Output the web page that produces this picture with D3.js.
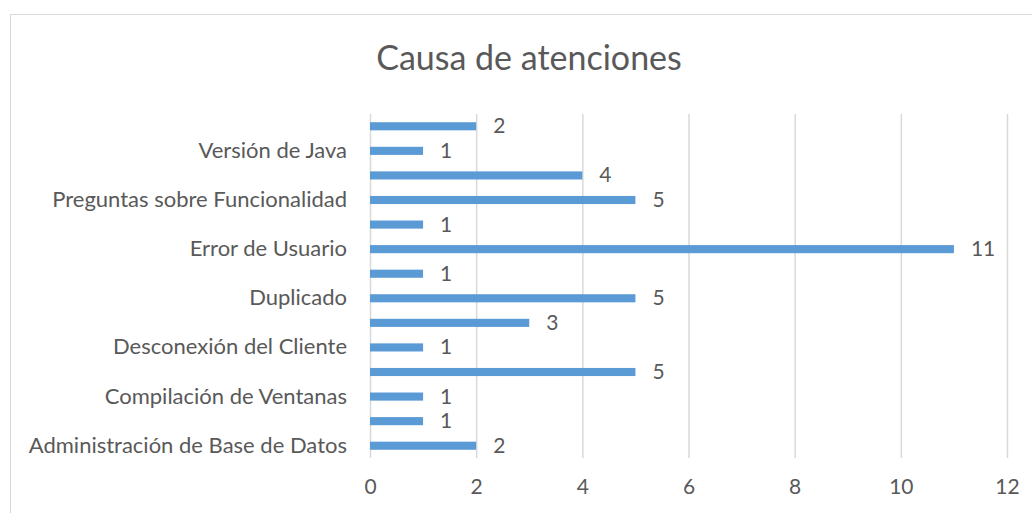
<!DOCTYPE html>
<html>
<head>
<meta charset="utf-8">
<script src="https://cdn.jsdelivr.net/npm/d3@7"></script>
<style>
  body { margin: 0; background: #fff; }
  text { font-family: Lato, sans-serif; fill: #595959; }
</style>
</head>
<body>
<div id="chart"></div>
<script>
// categories bottom to top; Excel only printed every other label
const categories = [
  "Administración de Base de Datos", "",
  "Compilación de Ventanas", "",
  "Desconexión del Cliente", "",
  "Duplicado", "",
  "Error de Usuario", "",
  "Preguntas sobre Funcionalidad", "",
  "Versión de Java", ""
];
const values = [2, 1, 1, 5, 1, 3, 5, 1, 11, 1, 5, 4, 1, 2];
const xTicks = [0, 2, 4, 6, 8, 10, 12];
const title = "Causa de atenciones";

let width = 1032,
    height = 513;

let svg = d3.select("#chart").append("svg")
  .attr("width", width)
  .attr("height", height);

// chart frame (runs off the right and bottom edge)
svg.append("rect")
  .attr("x", 10.5)
  .attr("y", 14.5)
  .attr("width", 1100)
  .attr("height", 600)
  .attr("fill", "none")
  .attr("stroke", "#d9d9d9");

svg.append("text")
  .attr("x", 529)
  .attr("y", 70)
  .attr("text-anchor", "middle")
  .attr("font-size", 34)
  .text(title);

let x = d3.scaleLinear()
  .domain([0, 12])
  .range([370, 1007]);

let idx = d3.range(categories.length);
let y = d3.scaleBand()
  .domain(idx)
  .range([458, 114])
  .paddingInner(0.67)
  .paddingOuter(0.335);

// gridlines
svg.append("g")
  .selectAll("line")
  .data(xTicks)
  .enter().append("line")
    .attr("x1", d => x(d) + 0.5)
    .attr("x2", d => x(d) + 0.5)
    .attr("y1", 114)
    .attr("y2", 458)
    .attr("stroke", "#d9d9d9")
    .attr("stroke-width", 1.5);

let xAxis = svg.append("g")
  .attr("transform", "translate(0,474)")
  .call(d3.axisBottom(x).tickValues(xTicks).tickSize(0).tickPadding(0));
xAxis.select(".domain").remove();
xAxis.selectAll("text")
  .attr("font-size", 21)
  .attr("dy", "0.95em")
  .style("font-family", "Lato, sans-serif")
  .attr("fill", "#595959");

let yAxis = svg.append("g")
  .attr("transform", "translate(370,0)")
  .call(d3.axisLeft(y).tickSize(0).tickPadding(23).tickFormat(i => categories[i]));
yAxis.select(".domain").remove();
yAxis.selectAll("text")
  .attr("font-size", 22)
  .style("font-family", "Lato, sans-serif")
  .attr("fill", "#595959");

svg.append("g")
  .selectAll("rect")
  .data(values)
  .enter().append("rect")
    .attr("x", x(0))
    .attr("y", (d, i) => y(i))
    .attr("width", d => x(d) - x(0))
    .attr("height", y.bandwidth())
    .attr("fill", "#5b9bd5");

svg.append("g")
  .selectAll("text")
  .data(values)
  .enter().append("text")
    .attr("x", d => x(d) + 17)
    .attr("y", (d, i) => y(i) + y.bandwidth() / 2 + 7)
    .attr("font-size", 21)
    .attr("fill", "#404040")
    .text(d => d);
</script>
</body>
</html>
